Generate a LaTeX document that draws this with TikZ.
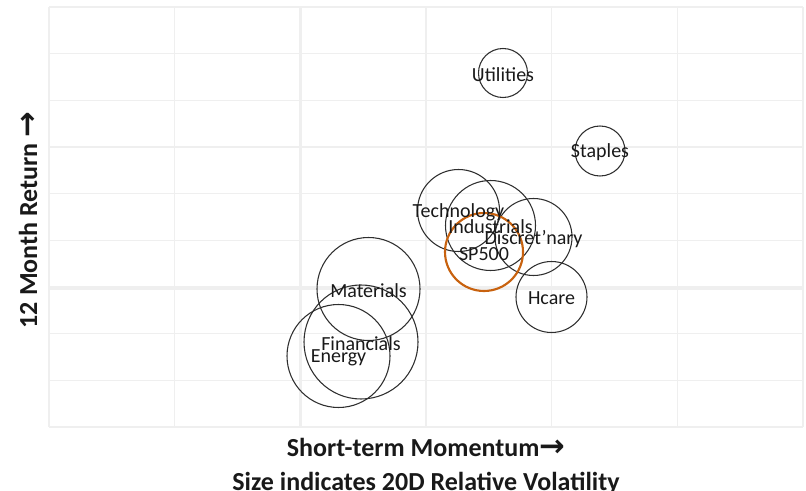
\documentclass[tikz,border=0pt]{standalone}
\usepackage{fontspec}
\setmainfont{Carlito}
\newfontfamily\arrowfont{DejaVu Sans}
\usetikzlibrary{positioning}
\definecolor{gl}{HTML}{EFEFEF}
\definecolor{ring}{HTML}{2E2E2E}
\definecolor{sp}{HTML}{C8620F}

\begin{document}
\begin{tikzpicture}[x=0.75pt, y=-0.75pt,
    bubble/.style={circle, draw=ring, line width=0.8pt, inner sep=0pt},
    tag/.style={font=\fontsize{15}{15}\selectfont, text=black!90, inner sep=0pt, yshift=-1.2pt},
    axis/.style={font=\fontsize{19.5}{20}\selectfont\bfseries, text=black!90, inner sep=0pt}]
    \useasboundingbox (0,0) rectangle (806,491);

    % Grid
    \foreach \i in {0,...,6}
        \draw[gl, line width=0.9pt] ({49+125.67*\i},7) -- ({49+125.67*\i},427);
    \foreach \j in {0,...,9}
        \draw[gl, line width=0.9pt] (49,{7+46.67*\j}) -- (803,{7+46.67*\j});
    \draw[gl, line width=2.6pt] (300.5,7) -- (300.5,427);
    \draw[gl, line width=2.3pt] (49,288) -- (803,288);

    % Sectors
    \node[bubble, minimum size=36.75pt] (util) at (503,73) {};
    \node[bubble, minimum size=37.5pt] (stap) at (600,151) {};
    \node[bubble, minimum size=61.5pt] (tech) at (458.5,210.5) {};
    \node[bubble, minimum size=67.5pt] (indu) at (490.5,225.5) {};
    \node[bubble, minimum size=57.75pt] (disc) at (533.5,237) {};
    \node[bubble, draw=sp, line width=1.6pt, minimum size=58.5pt] (spx) at (484,252) {};
    \node[bubble, minimum size=53.25pt] (hcar) at (551.5,297) {};
    \node[bubble, minimum size=77.25pt] (matl) at (368.5,289) {};
    \node[bubble, minimum size=85.5pt] (fina) at (361,342) {};
    \node[bubble, minimum size=77.25pt] (ener) at (338.5,356) {};

    \node[tag] at (util) {Utilities};
    \node[tag] at (stap) {Staples};
    \node[tag] at (tech) {Technology};
    \node[tag] at (indu) {Industrials};
    \node[tag] at (disc) {Discret'nary};
    \node[tag] at (spx) {SP500};
    \node[tag] at (hcar) {Hcare};
    \node[tag] at (matl) {Materials};
    \node[tag] at (fina) {Financials};
    \node[tag] at (ener) {Energy};

    % Axis titles
    \node[axis, anchor=base] (xt) at (426,456) {Short-term Momentum{\arrowfont\fontsize{23}{23}\selectfont →}};
    \node[axis, anchor=base] (st) at (426,490) {Size indicates 20D Relative Volatility};
    \node[axis, rotate=90, anchor=base] (yt) at (37,220) {12 Month Return {\arrowfont\fontsize{23}{23}\selectfont →}};
\end{tikzpicture}
\end{document}
